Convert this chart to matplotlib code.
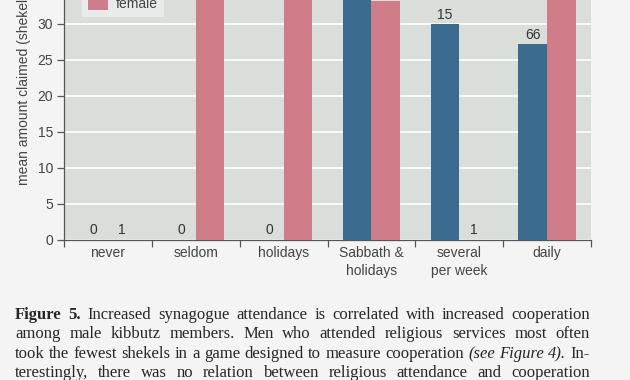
import numpy as np
import matplotlib
matplotlib.use("Agg")
import matplotlib.pyplot as plt
from matplotlib.patches import Patch

# ---------------- data ----------------
categories = ["never", "seldom", "holidays", "Sabbath &\nholidays", "several\nper week", "daily"]
male_mean = [np.nan, np.nan, np.nan, 37.0, 29.9, 27.1]
female_mean = [0.0, 38.0, 37.0, 33.1, 0.0, 36.0]
male_n = [0, 0, 0, None, 15, 66]
female_n = [1, None, None, None, 1, None]
y_ticks = [0, 5, 10, 15, 20, 25, 30]
y_label = "mean amount claimed (shekels)"
legend_labels = ["male", "female"]

caption_lines = [
    [("Figure", "bold"), ("5.", "bold"), ("Increased", "n"), ("synagogue", "n"), ("attendance", "n"),
     ("is", "n"), ("correlated", "n"), ("with", "n"), ("increased", "n"), ("cooperation", "n")],
    [(w, "n") for w in "among male kibbutz members. Men who attended religious services most often".split()],
    [(w, "n") for w in "took the fewest shekels in a game designed to measure cooperation".split()]
    + [("(see", "it"), ("Figure", "it"), ("4).", "it"), ("In-", "n")],
    [(w, "n") for w in "terestingly, there was no relation between religious attendance and cooperation".split()],
]

# ---------------- style ----------------
W, H = 630, 380
fig = plt.figure(figsize=(W / 100, H / 100), dpi=100, facecolor="#f4f4f4")
plt.rcParams["font.family"] = ["Liberation Sans", "DejaVu Sans"]

male_color = "#3b6b8f"
female_color = "#cf7d88"
text_color = "#444444"

px_per_unit = 7.2
ymax = 40
ax_left, ax_right, ax_bottom = 64, 591, 239.5
ax_h = ymax * px_per_unit
ax = fig.add_axes([ax_left / W, (H - ax_bottom) / H, (ax_right - ax_left) / W, ax_h / H])
ax.set_facecolor("#d9dedb")

x = np.arange(len(categories))
bw = 0.326
ax.bar(x - bw / 2, male_mean, width=bw, color=male_color, zorder=3)
ax.bar(x + bw / 2, female_mean, width=bw, color=female_color, zorder=3)

ax.set_xlim(-0.5, len(categories) - 0.5)
ax.set_ylim(0, ymax)

# grid
ax.set_yticks(y_ticks)
ax.yaxis.grid(True, color="white", linewidth=1.2, zorder=1)
ax.set_axisbelow(True)

# n labels
def put_labels(vals, ns, offs):
    for xi, v, n in zip(x, vals, ns):
        if n is None:
            continue
        y = 0 if (v is None or np.isnan(v)) else v
        ax.annotate(str(n), (xi + offs, y), xytext=(0, 1.5), textcoords="offset points",
                    ha="center", va="bottom", fontsize=10, color="#333333", zorder=4)

put_labels(male_mean, male_n, -bw / 2)
put_labels(female_mean, female_n, bw / 2)

# axes styling
for s in ["top", "right"]:
    ax.spines[s].set_visible(False)
for s in ["left", "bottom"]:
    ax.spines[s].set_color("#555555")
    ax.spines[s].set_linewidth(0.9)

ax.set_xticks(x)
ax.set_xticklabels(categories, fontsize=10, color=text_color, linespacing=1.35)
ax.set_xticks(np.arange(-0.5, len(categories), 1.0), minor=True)
ax.tick_params(axis="x", which="major", length=0, pad=5)
ax.tick_params(axis="x", which="minor", length=5, width=0.9, color="#555555")
ax.tick_params(axis="y", length=5, width=0.9, color="#555555", pad=3, labelsize=10, labelcolor=text_color)

# y label
fig.text(24 / W, 1 - 185 / H, y_label, rotation=90, rotation_mode="anchor",
         ha="left", va="center", fontsize=10, color=text_color)

# legend
handles = [Patch(facecolor=male_color), Patch(facecolor=female_color)]
leg = fig.legend(handles, legend_labels, loc="lower left",
                 bbox_to_anchor=(82 / W, 1 - 17 / H), bbox_transform=fig.transFigure,
                 borderaxespad=0, frameon=True, fancybox=False, fontsize=10,
                 handlelength=1.5, handleheight=1.0, handletextpad=0.55, labelspacing=0.4,
                 borderpad=0.4)
leg.get_frame().set_facecolor("#eeeeee")
leg.get_frame().set_edgecolor("none")
for t in leg.get_texts():
    t.set_color(text_color)

# caption (justified)
cap_left, cap_right = 15, 590
baselines = [319, 338.5, 358, 377]
cap_font = ["Liberation Serif", "DejaVu Serif"]
fig.canvas.draw()
r = fig.canvas.get_renderer()
for line, yb in zip(caption_lines, baselines):
    texts = []
    for word, st in line:
        kw = dict(fontsize=12, color="#262626", family=cap_font, va="baseline", ha="left")
        if st == "bold":
            kw["fontweight"] = "bold"
        elif st == "it":
            kw["fontstyle"] = "italic"
        t = fig.text(0, 1 - yb / H, word, **kw)
        texts.append(t)
    widths = [t.get_window_extent(renderer=r).width for t in texts]
    gap = (cap_right - cap_left - sum(widths)) / (len(texts) - 1)
    xp = cap_left
    for t, w in zip(texts, widths):
        t.set_x(xp / W)
        xp += w + gap

fig.savefig("out.png", dpi=100, facecolor=fig.get_facecolor())
